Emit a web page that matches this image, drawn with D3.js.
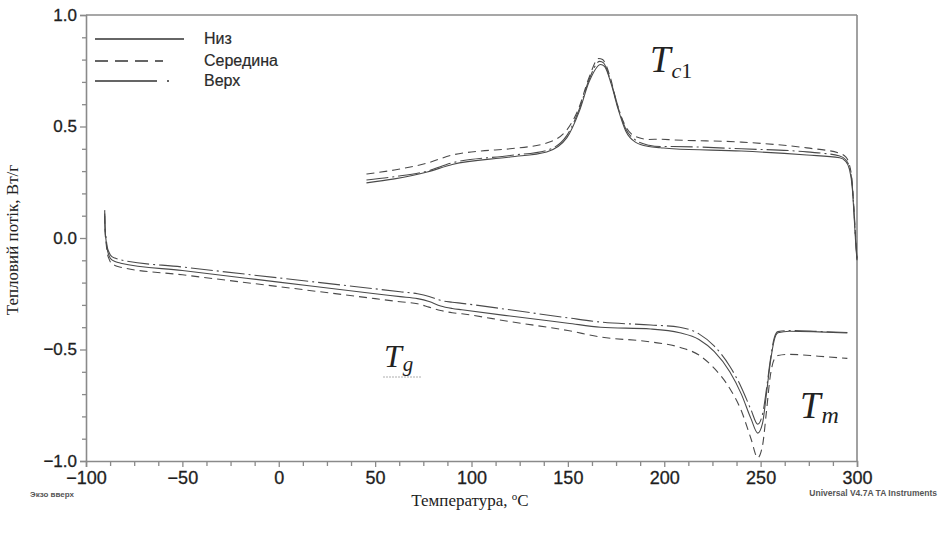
<!DOCTYPE html>
<html>
<head>
<meta charset="utf-8">
<script src="https://cdn.jsdelivr.net/npm/d3@7"></script>
<style>
  body { margin: 0; background: #fff; }
  svg { display: block; }
</style>
</head>
<body>
<div id="chart"></div>
<script>
// Axis ticks
const xMajorTicks = [-100, -50, 0, 50, 100, 150, 200, 250, 300];
const yMajorTicks = [-1.0, -0.5, 0.0, 0.5, 1.0];

// Series names
const seriesNames = ['Низ', 'Середина', 'Верх'];

// Heating runs (lower curves): [temperature, heat flow]
const nizHeat = [
  [-90.3, 0.11], [-90.1, 0.04], [-89.6, -0.01], [-89, -0.05], [-88, -0.08], [-87, -0.095],
  [-85, -0.105], [-82, -0.113], [-50, -0.146], [0, -0.198], [50, -0.25], [63, -0.263],
  [72, -0.272], [78, -0.285], [84, -0.305], [90, -0.316], [95, -0.322], [120, -0.35],
  [150, -0.382], [167, -0.40], [193, -0.408], [208, -0.425], [218, -0.455], [226, -0.51],
  [234, -0.60], [240, -0.70], [245, -0.81], [248.5, -0.875], [251, -0.83], [253, -0.70],
  [255, -0.56], [257, -0.46], [259, -0.425], [265, -0.418], [280, -0.421], [295, -0.426]
];
const seredHeat = [
  [-90.3, 0.10], [-90.1, 0.03], [-89.6, -0.02], [-89, -0.065], [-88, -0.095], [-87, -0.112],
  [-85, -0.123], [-82, -0.131], [-50, -0.165], [0, -0.218], [50, -0.272], [63, -0.286],
  [72, -0.295], [78, -0.31], [84, -0.325], [90, -0.335], [95, -0.34], [120, -0.375],
  [150, -0.415], [167, -0.444], [193, -0.466], [208, -0.49], [218, -0.525], [226, -0.585],
  [234, -0.675], [240, -0.775], [245, -0.90], [248.5, -0.985], [251, -0.93], [253, -0.78],
  [255, -0.62], [257, -0.545], [259, -0.527], [265, -0.522], [280, -0.53], [295, -0.54]
];
const verhHeat = [
  [-90.3, 0.125], [-90.1, 0.05], [-89.6, 0.0], [-89, -0.04], [-88, -0.065], [-87, -0.08],
  [-85, -0.09], [-82, -0.098], [-50, -0.13], [0, -0.179], [50, -0.228], [63, -0.241],
  [72, -0.25], [78, -0.262], [84, -0.28], [90, -0.288], [95, -0.293], [120, -0.322],
  [150, -0.358], [167, -0.377], [193, -0.39], [208, -0.40], [218, -0.43], [226, -0.485],
  [234, -0.575], [240, -0.67], [245, -0.77], [248.5, -0.835], [251, -0.79], [253, -0.68],
  [255, -0.55], [257, -0.45], [259, -0.42], [265, -0.415], [280, -0.419], [295, -0.424]
];

// Cooling runs (upper curves)
const nizCool = [
  [45.5, 0.247], [60, 0.265], [77, 0.296], [90, 0.33], [120, 0.363], [139, 0.386],
  [149.5, 0.45], [156, 0.57], [161, 0.70], [167, 0.778], [169, 0.77], [172.5, 0.69],
  [176, 0.58], [180, 0.48], [185, 0.43], [192, 0.41], [198, 0.405], [204.5, 0.40],
  [240, 0.39], [274, 0.372], [291, 0.36], [294, 0.345], [296, 0.31], [297.5, 0.23],
  [298.5, 0.10], [299.3, -0.02], [300, -0.10]
];
const seredCool = [
  [45.5, 0.287], [60, 0.305], [77, 0.336], [90, 0.372], [105, 0.39], [120, 0.40],
  [139, 0.426], [149.5, 0.485], [156, 0.59], [161, 0.72], [166, 0.805], [168, 0.80],
  [172, 0.72], [175.5, 0.60], [180, 0.50], [185, 0.455], [192, 0.442], [198, 0.443],
  [204.5, 0.44], [240, 0.43], [274, 0.404], [291, 0.38], [294, 0.365], [296, 0.33],
  [297.5, 0.25], [298.5, 0.12], [299.3, 0.0], [300, -0.09]
];
const verhCool = [
  [45.5, 0.26], [60, 0.275], [77, 0.30], [90, 0.337], [120, 0.37], [139, 0.393],
  [149.5, 0.46], [156, 0.58], [161, 0.71], [166.5, 0.792], [168.5, 0.785], [172, 0.71],
  [176, 0.59], [180, 0.49], [185, 0.44], [192, 0.416], [198, 0.41], [204.5, 0.41],
  [240, 0.40], [274, 0.386], [291, 0.368], [294, 0.352], [296, 0.32], [297.5, 0.24],
  [298.5, 0.11], [299.3, -0.01], [300, -0.095]
];

const totalWidth = 940;
const totalHeight = 534;
const margin = { top: 15, right: 83, bottom: 73, left: 86 };
const width = totalWidth - margin.left - margin.right;
const height = totalHeight - margin.top - margin.bottom;

const lineColor = '#4a4a4a';
const frameColor = '#8a8a8a';
const dashes = ['none', '8,5', '22,4,2,4'];

const svg = d3.select('#chart')
  .append('svg')
  .attr('width', totalWidth)
  .attr('height', totalHeight);

const g = svg.append('g')
  .attr('transform', `translate(${margin.left},${margin.top})`);

const x = d3.scaleLinear().domain([-100, 300]).range([0, width]);
const y = d3.scaleLinear().domain([-1, 1]).range([height, 0]);

// minor ticks
const xMinor = d3.range(-100, 300.1, 12.5).filter((v) => !xMajorTicks.includes(v));
const yMinor = d3.range(-1, 1.001, 0.1).map((v) => Math.round(v * 10) / 10)
  .filter((v) => !yMajorTicks.some((t) => Math.abs(t - v) < 1e-9));

const tickFont = '"Liberation Sans", Arial, sans-serif';

// x-axis
const xAxis = g.append('g')
  .attr('transform', `translate(0,${height})`)
  .call(d3.axisBottom(x).tickValues(xMajorTicks).tickSize(6).tickPadding(4)
    .tickFormat(d3.format('d')));
g.append('g')
  .attr('transform', `translate(0,${height})`)
  .call(d3.axisBottom(x).tickValues(xMinor).tickSize(5).tickFormat(''))
  .call((s) => s.select('.domain').remove());

// y-axis
const yAxis = g.append('g')
  .call(d3.axisLeft(y).tickValues(yMajorTicks).tickSize(6).tickPadding(3)
    .tickFormat(d3.format('.1f')));
g.append('g')
  .call(d3.axisLeft(y).tickValues(yMinor).tickSize(4).tickFormat(''))
  .call((s) => s.select('.domain').remove());

g.selectAll('.tick line').attr('stroke', frameColor).attr('stroke-width', 1.3);
g.selectAll('.domain').attr('stroke', frameColor).attr('stroke-width', 1.6);
xAxis.selectAll('text')
  .attr('font-family', tickFont).attr('font-size', 18).attr('fill', '#1e1e1e')
  .attr('stroke', '#1e1e1e').attr('stroke-width', 0.3);
yAxis.selectAll('text')
  .attr('font-family', tickFont).attr('font-size', 17).attr('fill', '#1e1e1e')
  .attr('stroke', '#1e1e1e').attr('stroke-width', 0.3)
  .attr('dy', '0.3em');

// top and right frame
g.append('line')
  .attr('x1', 0).attr('x2', width).attr('y1', 0).attr('y2', 0)
  .attr('stroke', frameColor).attr('stroke-width', 1.6);
g.append('line')
  .attr('x1', width).attr('x2', width).attr('y1', 0).attr('y2', height)
  .attr('stroke', frameColor).attr('stroke-width', 1.6);

// curves
const line = d3.line()
  .x((d) => x(d[0]))
  .y((d) => y(d[1]))
  .curve(d3.curveMonotoneX);

const runs = [
  [nizHeat, nizCool],
  [seredHeat, seredCool],
  [verhHeat, verhCool],
];
runs.forEach((pair, i) => {
  pair.forEach((data) => {
    g.append('path')
      .datum(data)
      .attr('fill', 'none')
      .attr('stroke', lineColor)
      .attr('stroke-width', 1.1)
      .attr('stroke-dasharray', dashes[i])
      .attr('d', line);
  });
});

// legend
const legendLines = [
  { y: 39, len: 89, dash: 'none' },
  { y: 61, len: 68, dash: '13,7' },
  { y: 81, len: 74, dash: '62,10,2,10' },
];
seriesNames.forEach((name, i) => {
  const l = legendLines[i];
  svg.append('line')
    .attr('x1', 95).attr('x2', 95 + l.len)
    .attr('y1', l.y).attr('y2', l.y)
    .attr('stroke', '#333').attr('stroke-width', 1.4)
    .attr('stroke-dasharray', l.dash);
  svg.append('text')
    .attr('x', 204).attr('y', l.y + 5)
    .attr('font-family', tickFont)
    .attr('font-size', 16)
    .attr('fill', '#2a2a2a')
    .attr('stroke', '#2a2a2a').attr('stroke-width', 0.2)
    .text(name);
});

// annotations
const serif = '"Liberation Serif", "Times New Roman", serif';
function label(xp, yp, main, sub, size, subSize, subDy) {
  const t = svg.append('text')
    .attr('x', xp).attr('y', yp)
    .attr('font-family', serif)
    .attr('fill', '#222');
  t.append('tspan').attr('font-size', size).attr('font-style', 'italic').text(main);
  sub.forEach((s, k) => {
    t.append('tspan')
      .attr('font-size', subSize)
      .attr('font-style', s.italic ? 'italic' : 'normal')
      .attr('dx', k === 0 ? 1 : 0)
      .attr('dy', k === 0 ? subDy : 0)
      .text(s.t);
  });
}
label(650, 72, 'T', [{ t: 'c', italic: true }, { t: '1', italic: false }], 37, 22, 6);
label(800, 418, 'T', [{ t: 'm', italic: true }], 37, 24, 5);
label(384, 367, 'T', [{ t: 'g', italic: true }], 32, 21, 4);
svg.append('line')
  .attr('x1', 383).attr('x2', 422).attr('y1', 377).attr('y2', 377)
  .attr('stroke', '#9a9a9a').attr('stroke-width', 0.8)
  .attr('stroke-dasharray', '2,1');

// axis titles
svg.append('text')
  .attr('transform', 'translate(18,240) rotate(-90)')
  .attr('text-anchor', 'middle')
  .attr('font-family', serif)
  .attr('font-size', 17)
  .attr('fill', '#222')
  .text('Тепловий потік, Вт/г');

const xt = svg.append('text')
  .attr('x', 470).attr('y', 506)
  .attr('text-anchor', 'middle')
  .attr('font-family', serif)
  .attr('font-size', 17)
  .attr('fill', '#222');
xt.append('tspan').text('Температура, ');
xt.append('tspan').attr('font-size', 11).attr('dy', -6).text('o');
xt.append('tspan').attr('dy', 6).text('C');

// instrument notes
svg.append('text')
  .attr('x', 30).attr('y', 497)
  .attr('font-family', tickFont).attr('font-size', 8).attr('font-weight', 'bold')
  .attr('fill', '#555')
  .text('Экзо вверх');
svg.append('text')
  .attr('x', 937).attr('y', 496)
  .attr('text-anchor', 'end')
  .attr('font-family', tickFont).attr('font-size', 8.5).attr('font-weight', 'bold')
  .attr('fill', '#555')
  .text('Universal V4.7A TA Instruments');
</script>
</body>
</html>
